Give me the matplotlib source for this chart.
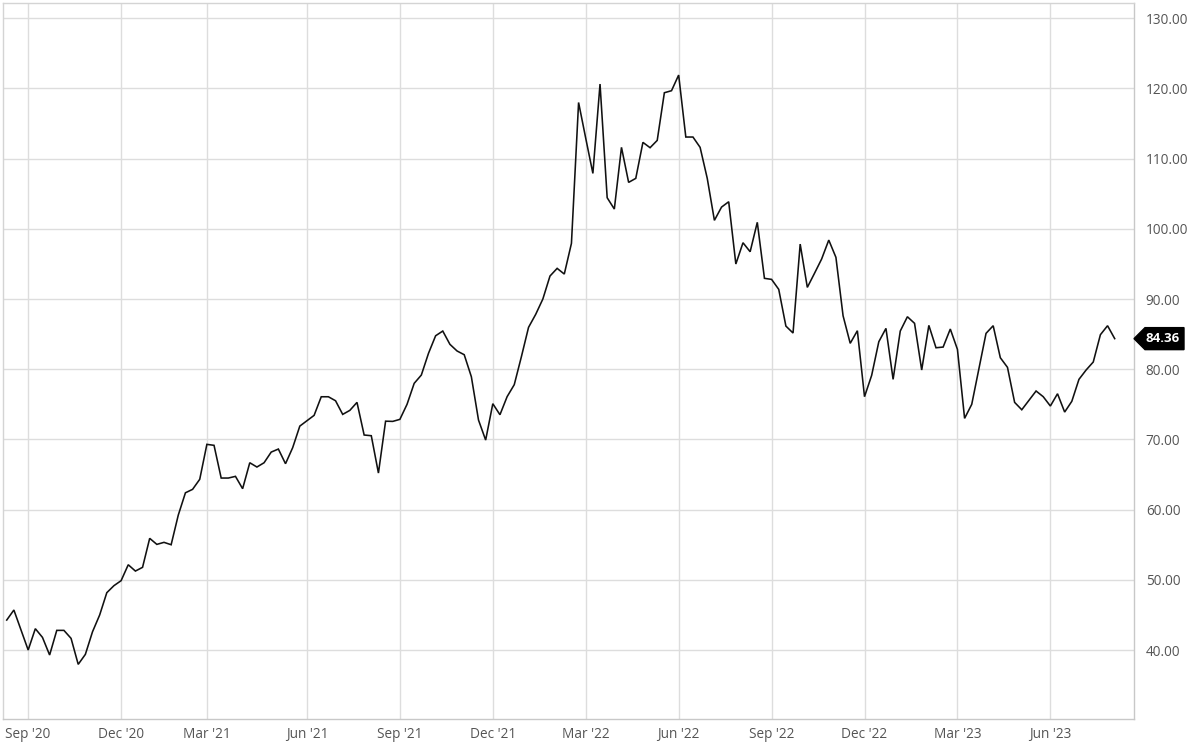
import matplotlib
matplotlib.use("Agg")
import matplotlib.pyplot as plt
import matplotlib.transforms as mtransforms
from matplotlib.patches import Polygon
import matplotlib.dates as mdates
import pandas as pd

start_date = "2020-08-17"
values = [
    44.27, 45.70, 42.85, 40.00, 43.04, 41.80, 39.29, 42.80, 42.80, 41.66,
    37.96, 39.38, 42.60, 44.99, 48.17, 49.17, 49.88, 52.15, 51.25, 51.78,
    55.91, 55.05, 55.34, 55.00, 59.23, 62.40, 62.89, 64.32, 69.30, 69.16,
    64.50, 64.50, 64.74, 62.98, 66.68, 66.07, 66.68, 68.20, 68.63, 66.54,
    68.82, 71.90, 72.67, 73.43, 76.08, 76.08, 75.51, 73.57, 74.14, 75.28,
    70.63, 70.53, 65.21, 72.60, 72.57, 72.86, 75.00, 77.99, 79.17, 82.26,
    84.77, 85.44, 83.55, 82.60, 82.07, 78.93, 72.76, 69.91, 75.09, 73.52,
    76.09, 77.80, 81.79, 85.97, 87.82, 90.00, 93.28, 94.37, 93.56, 97.93,
    118.00, 112.90, 107.90, 120.63, 104.43, 102.82, 111.61, 106.62, 107.19, 112.32,
    111.56, 112.60, 119.39, 119.68, 121.91, 113.08, 113.08, 111.61, 107.19, 101.21,
    103.10, 103.86, 94.99, 98.02, 96.74, 100.93, 92.95, 92.80, 91.38, 86.15,
    85.16, 97.83, 91.66, 93.66, 95.70, 98.40, 95.94, 87.62, 83.69, 85.49,
    76.09, 79.13, 83.92, 85.82, 78.56, 85.44, 87.48, 86.54, 79.89, 86.25,
    83.06, 83.16, 85.73, 82.83, 73.00, 75.00, 80.03, 85.11, 86.20, 81.64,
    80.27, 75.28, 74.23, 75.57, 76.90, 76.09, 74.76, 76.51, 73.90, 75.43,
    78.56, 79.89, 81.03, 84.92, 86.20, 84.36,
]
last_label = "84.36"
y_ticks = [40, 50, 60, 70, 80, 90, 100, 110, 120, 130]
tick_months = [3, 6, 9, 12]

dates = pd.date_range(start_date, periods=len(values), freq="W-MON")
s = pd.Series(values, index=dates)

# first weekly point of each quarter-month
first_in_month = s.groupby([dates.year, dates.month]).head(1).index
x_ticks = [d for d in first_in_month if d.month in tick_months and d >= pd.Timestamp("2020-09-01")]

plt.rcParams["font.family"] = ["Open Sans", "DejaVu Sans"]

fig = plt.figure(figsize=(12, 7.56), dpi=100)
ax = fig.add_axes([0.00275, 0.0489, 0.94225, 0.9471])

ax.plot(dates, values, color="#111111", lw=1.15, solid_joinstyle="miter")

week = pd.Timedelta(weeks=1)
ax.set_xlim(dates[0] - 0.48 * week, dates[0] + 157.7 * week)
ax.set_ylim(30.17, 132.17)

ax.set_xticks(x_ticks)
ax.xaxis.set_major_formatter(mdates.DateFormatter("%b '%y"))
ax.set_yticks(y_ticks)
ax.set_yticklabels([f"{v:.2f}" for v in y_ticks])
ax.yaxis.tick_right()

ax.grid(True, color="#dddddd", lw=1.0)
ax.set_axisbelow(True)
for side, sp in ax.spines.items():
    sp.set_color("#d4d4d4")
    sp.set_linewidth(1.0)
ax.spines["right"].set_color("#c8c8c8")
ax.spines["bottom"].set_color("#c8c8c8")

ax.tick_params(axis="both", length=0, labelsize=9.8, labelcolor="#555555")
ax.tick_params(axis="y", pad=8.5)
ax.tick_params(axis="x", pad=5.5)

# last value tag
blend = mtransforms.blended_transform_factory(ax.transAxes, ax.transData)
trans = fig.dpi_scale_trans + mtransforms.ScaledTranslation(1.0, values[-1], blend)
poly = Polygon([(0, 0), (0.11, 0.11), (0.50, 0.11), (0.50, -0.11), (0.11, -0.11)],
               closed=True, transform=trans, facecolor="black", edgecolor="black",
               clip_on=False)
fig.add_artist(poly)
fig.text(0.29, 0.0, last_label, transform=trans, ha="center", va="center",
         color="white", fontsize=9.5, fontweight="bold")

fig.savefig("out.png", dpi=100, facecolor="white")
